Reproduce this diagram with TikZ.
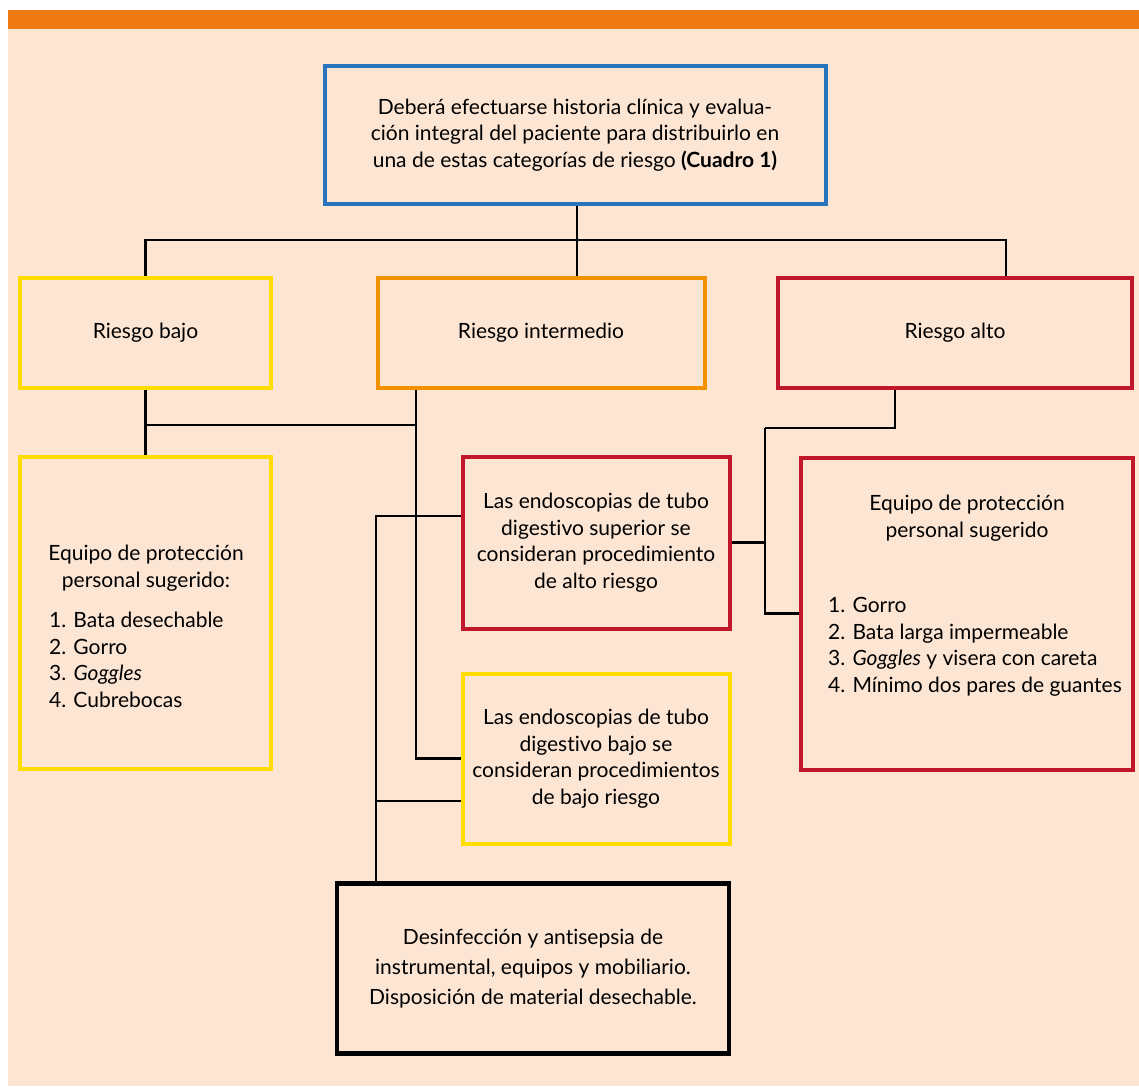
\documentclass[tikz,border=0pt]{standalone}
\usepackage{fontspec}
\setmainfont{Lato}[Ligatures={NoCommon}]
\usetikzlibrary{positioning}
\definecolor{bgpeach}{HTML}{FDE5D4}
\definecolor{barorange}{HTML}{EF7A14}
\definecolor{cblue}{HTML}{2A74BB}
\definecolor{cyellow}{HTML}{FFDD00}
\definecolor{corange}{HTML}{F39200}
\definecolor{cred}{HTML}{C0182A}
\begin{document}
\begin{tikzpicture}[x=1pt,y=-1pt,
  box/.style={draw, line width=4pt, fill=none, inner sep=0pt, align=center,
    font=\fontsize{21}{26.5}\selectfont},
  txt/.style={inner sep=0pt, font=\fontsize{21}{26.5}\selectfont},
  conn/.style={line width=2.6pt, black}]
\useasboundingbox (0,0) rectangle (1139,1086);
\fill[white] (0,0) rectangle (1139,1086);
\fill[bgpeach] (8,29) rectangle (1139,1086);
\fill[barorange] (8,10) rectangle (1139,29);

% boxes
\node[box, draw=cblue, minimum width=501, minimum height=137] (top) at (575,135)
  {Deberá efectuarse historia clínica y evalua-\\ción integral del paciente para distribuirlo en\\una de estas categorías de riesgo \textbf{(Cuadro 1)}};
\node[box, draw=cyellow, minimum width=251, minimum height=110] (bajo) at (145.5,333) {Riesgo bajo};
\node[box, draw=corange, minimum width=327, minimum height=110] (inter) at (541,333) {Riesgo intermedio};
\node[box, draw=cred, minimum width=354, minimum height=110] (alto) at (955,333) {Riesgo alto};

\node[box, draw=cyellow, minimum width=251, minimum height=312] (eqL) at (145.5,613) {};
\node[txt, align=center] (eqLh) at (146,568) {Equipo de protección\\personal sugerido:};
\node[txt, align=left, anchor=west] (eqLl) at (49,660)
  {1. Bata desechable\\2. Gorro\\3. \textit{Goggles}\\4. Cubrebocas};

\node[box, draw=cred, minimum width=267, minimum height=172] (sup) at (596,542.5)
  {Las endoscopias de tubo\\digestivo superior se\\consideran procedimiento\\de alto riesgo};
\node[box, draw=cyellow, minimum width=267, minimum height=170] (inf) at (596,758.5)
  {Las endoscopias de tubo\\digestivo bajo se\\consideran procedimientos\\de bajo riesgo};

\node[box, draw=cred, minimum width=332, minimum height=312] (eqR) at (967,613.5) {};
\node[txt, align=center] (eqRh) at (967,518) {Equipo de protección\\personal sugerido};
\node[txt, align=left, anchor=west] (eqRl) at (828,647)
  {1. Gorro\\2. Bata larga impermeable\\3. \textit{Goggles} y visera con careta\\4. Mínimo dos pares de guantes};

\node[box, draw=black, line width=4.5pt, minimum width=392, minimum height=170,
  font=\fontsize{21}{30}\selectfont] (des) at (533,968.5)
  {Desinfección y antisepsia de\\instrumental, equipos y mobiliario.\\Disposición de material desechable.};

% connectors
\coordinate (hub) at (577,240);
\draw[conn] (hub |- top.south) -- (hub |- inter.north);
\draw[conn] (bajo.north) |- (hub) -| (alto.north -| 1006,0);

\coordinate (j1) at (416,425);
\draw[conn] (bajo.south) -- (eqL.north);
\draw[conn] (bajo.south |- j1) -- (j1);
\draw[conn] (inter.south -| j1) |- (inf.west);

\coordinate (j2) at (376,516);
\draw[conn] (sup.west |- j2) -- (j2) -- (j2 |- des.north);
\draw[conn] (j2 |- 0,801) -- (inf.west |- 0,801);

\coordinate (j3) at (765,428);
\draw[conn] (sup.east) -| (j3);
\draw[conn] (alto.south -| 895,0) |- (j3);
\draw[conn] (sup.east -| j3) |- (eqR.west);
\end{tikzpicture}
\end{document}
